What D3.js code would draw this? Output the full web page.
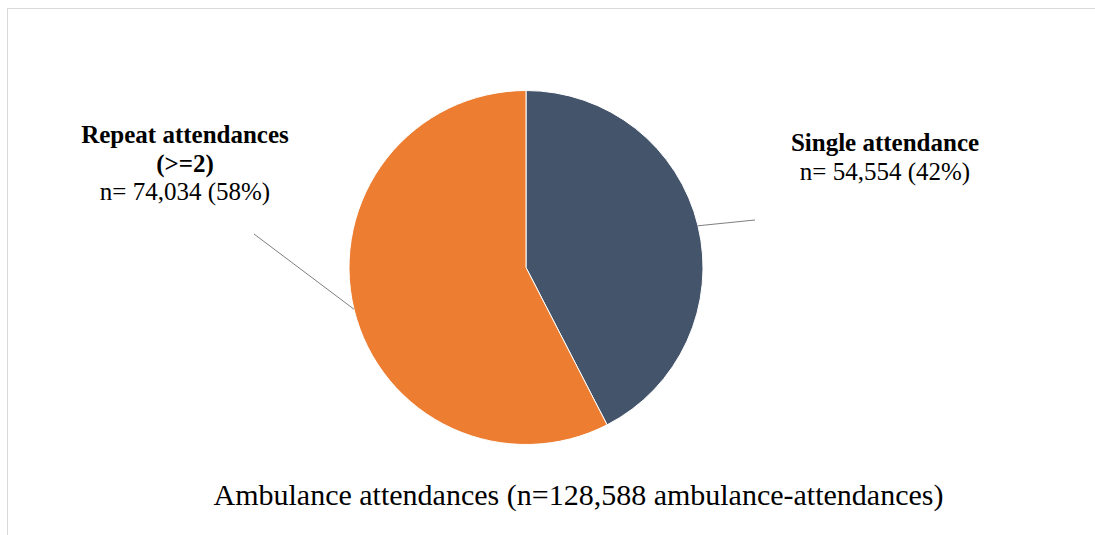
<!DOCTYPE html>
<html>
<head>
<meta charset="utf-8">
<script src="https://cdn.jsdelivr.net/npm/d3@7"></script>
<style>
  html, body { margin: 0; padding: 0; background: #fff; }
  svg { display: block; }
  text { font-family: "Liberation Serif", "Times New Roman", serif; fill: #000; }
</style>
</head>
<body>
<svg id="chart" width="1095" height="535"></svg>
<script>
// Ambulance attendance counts by attendance type
const categories = ["Single attendance", "Repeat attendances"];
const counts = [54554, 74034];
const labelHeads = [["Single attendance"], ["Repeat attendances", "(>=2)"]];
const labelValues = ["n= 54,554 (42%)", "n= 74,034 (58%)"];
const colors = ["#44546A", "#ED7D31"];
const title = "Ambulance attendances (n=128,588 ambulance-attendances)";

const W = 1095, H = 535;
const cx = 526, cy = 267.5, R = 177;

const svg = d3.select("#chart");

// outer frame (top and left edges visible)
svg.append("line").attr("x1", 7).attr("x2", W).attr("y1", 8.5).attr("y2", 8.5)
  .attr("stroke", "#d9d9d9").attr("stroke-width", 1);
svg.append("line").attr("x1", 7.5).attr("x2", 7.5).attr("y1", 8).attr("y2", H)
  .attr("stroke", "#d9d9d9").attr("stroke-width", 1);

const pie = d3.pie().sort(null).value(d => d)(counts);
const arc = d3.arc().innerRadius(0).outerRadius(R);

const g = svg.append("g").attr("transform", `translate(${cx},${cy})`);
g.selectAll("path.slice").data(pie).join("path")
  .attr("class", "slice")
  .attr("d", arc)
  .attr("fill", (d, i) => colors[i])
  .attr("stroke", "#ffffff")
  .attr("stroke-width", 1);

// leader lines: start on the pie edge at each slice's mid-angle, end near its label
const leaderEnds = [[229, -47.5], [-272, -33.5]];
pie.forEach((d, i) => {
  const a = (d.startAngle + d.endAngle) / 2;
  g.append("line")
    .attr("x1", R * Math.sin(a)).attr("y1", -R * Math.cos(a))
    .attr("x2", leaderEnds[i][0]).attr("y2", leaderEnds[i][1])
    .attr("stroke", "#7f7f7f").attr("stroke-width", 1);
});

// slice labels
const labelPos = [{ x: 885, y: 151 }, { x: 185, y: 143 }];
const lineGap = 28.5;
labelPos.forEach((p, i) => {
  const t = svg.append("text").attr("text-anchor", "middle").attr("font-size", 25);
  const lines = labelHeads[i];
  lines.forEach((s, k) => {
    t.append("tspan").attr("x", p.x).attr("y", p.y + k * lineGap)
      .attr("font-weight", "bold").text(s);
  });
  t.append("tspan").attr("x", p.x).attr("y", p.y + lines.length * lineGap)
    .attr("font-weight", "normal").text(labelValues[i]);
});

// chart title below the pie
svg.append("text")
  .attr("x", 578.5).attr("y", 505)
  .attr("text-anchor", "middle")
  .attr("font-size", 30)
  .text(title);
</script>
</body>
</html>
